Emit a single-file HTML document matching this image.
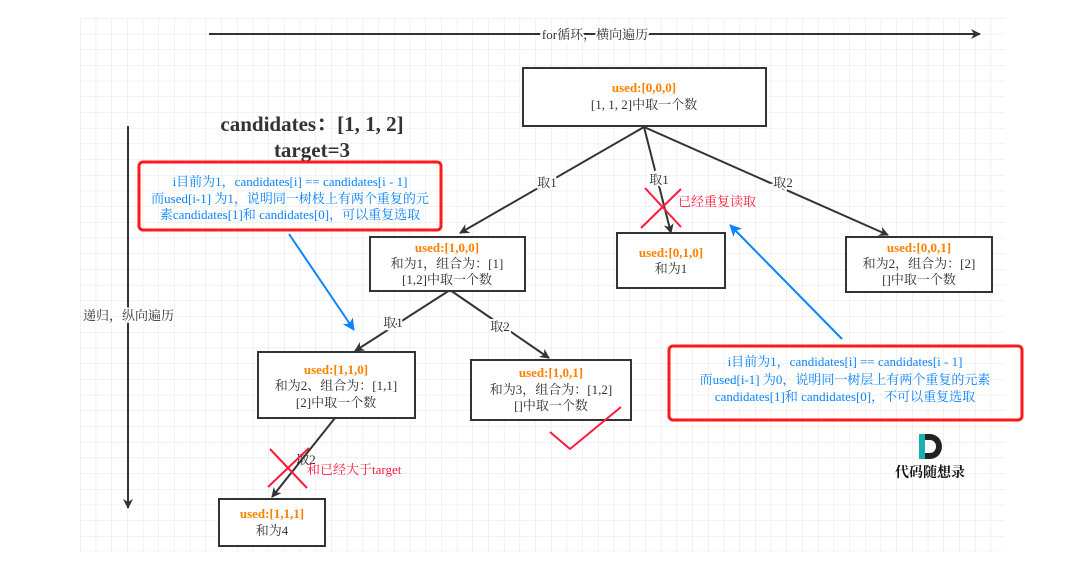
<!DOCTYPE html>
<html><head><meta charset="utf-8"><style>
html,body{margin:0;padding:0;background:#fff;width:1076px;height:577px;overflow:hidden}
text{font-family:"Liberation Serif","Noto Serif CJK SC",serif}
</style></head><body>
<svg width="1076" height="577" viewBox="0 0 1076 577" xmlns="http://www.w3.org/2000/svg">
<defs>
<pattern id="g" x="80" y="18" width="15.7" height="15.7" patternUnits="userSpaceOnUse">
<path d="M0 0H15.7M0 0V15.7" stroke="#e4e4e4" stroke-width="1" fill="none"/>
</pattern>
<marker id="a" markerWidth="10" markerHeight="10" refX="9" refY="5" orient="auto" markerUnits="userSpaceOnUse"><path d="M0 0L10 5L0 10L3 5Z" fill="#333"/></marker>
<marker id="b" markerWidth="12" markerHeight="12" refX="11" refY="6" orient="auto" markerUnits="userSpaceOnUse"><path d="M0 0L12 6L0 12L3 6Z" fill="#0a84ff"/></marker>
</defs>
<rect x="80" y="18" width="925" height="534" fill="url(#g)"/>
<g stroke="#333" stroke-width="2" fill="none">
<line x1="209" y1="34" x2="980" y2="34" marker-end="url(#a)"/>
<line x1="128" y1="126" x2="128" y2="508" marker-end="url(#a)"/>
<line x1="644" y1="127" x2="460" y2="233" marker-end="url(#a)"/>
<line x1="644" y1="127" x2="671" y2="233" marker-end="url(#a)"/>
<line x1="644" y1="127" x2="888" y2="235" marker-end="url(#a)"/>
<line x1="450" y1="290" x2="355" y2="351" marker-end="url(#a)"/>
<line x1="450" y1="290" x2="549" y2="358" marker-end="url(#a)"/>
<line x1="335" y1="418" x2="272" y2="497" marker-end="url(#a)"/>
</g>
<text x="595" y="39" font-size="13" fill="#333" text-anchor="middle" style="paint-order:stroke" stroke="#fff" stroke-width="4">for循环，横向遍历</text>
<text x="83" y="320" font-size="13" fill="#333" style="paint-order:stroke" stroke="#fff" stroke-width="3">递归，纵向遍历</text>
<text x="312" y="131" font-size="21" font-weight="bold" fill="#333" text-anchor="middle">candidates：[1, 1, 2]</text>
<text x="312" y="157" font-size="21" font-weight="bold" fill="#333" text-anchor="middle">target=3</text>
<g fill="#fff" stroke="#333" stroke-width="2">
<rect x="523" y="68" width="243" height="58"/>
<rect x="370" y="237" width="155" height="54"/>
<rect x="617" y="233" width="108" height="55"/>
<rect x="846" y="237" width="146" height="55"/>
<rect x="258" y="352" width="157" height="66"/>
<rect x="471" y="360" width="160" height="60"/>
<rect x="219" y="499" width="106" height="47"/>
</g>
<g font-size="13" text-anchor="middle">
<text x="644" y="92" fill="#ff8000" font-weight="bold">used:[0,0,0]</text>
<text x="644" y="109" fill="#333">[1, 1, 2]中取一个数</text>
<text x="447" y="252" fill="#ff8000" font-weight="bold">used:[1,0,0]</text>
<text x="447" y="268" fill="#333">和为1，组合为：[1]</text>
<text x="447" y="284" fill="#333">[1,2]中取一个数</text>
<text x="671" y="257" fill="#ff8000" font-weight="bold">used:[0,1,0]</text>
<text x="671" y="273" fill="#333">和为1</text>
<text x="919" y="252" fill="#ff8000" font-weight="bold">used:[0,0,1]</text>
<text x="919" y="268" fill="#333">和为2，组合为：[2]</text>
<text x="919" y="284" fill="#333">[]中取一个数</text>
<text x="336" y="374" fill="#ff8000" font-weight="bold">used:[1,1,0]</text>
<text x="336" y="390" fill="#333">和为2、组合为：[1,1]</text>
<text x="336" y="407" fill="#333">[2]中取一个数</text>
<text x="551" y="377" fill="#ff8000" font-weight="bold">used:[1,0,1]</text>
<text x="551" y="394" fill="#333">和为3，组合为：[1,2]</text>
<text x="551" y="410" fill="#333">[]中取一个数</text>
<text x="272" y="518" fill="#ff8000" font-weight="bold">used:[1,1,1]</text>
<text x="272" y="535" fill="#333">和为4</text>
</g>
<g font-size="13" fill="#333" text-anchor="middle" stroke="#fff" stroke-width="4" style="paint-order:stroke">
<text x="547" y="187">取1</text>
<text x="659" y="184">取1</text>
<text x="783" y="187">取2</text>
<text x="393" y="327">取1</text>
<text x="500" y="331">取2</text>
</g>
<text x="306" y="464" font-size="13" fill="#333" text-anchor="middle">取2</text>
<g stroke="#ff1a3c" stroke-width="2" fill="none">
<path d="M645 188L681 227M681 189L641 228"/>
<path d="M270 449L307 488M309 448L268 487"/>
<path d="M550 432L570 449L621 407"/>
</g>
<text x="678" y="206" font-size="13" fill="#ff1a3c" font-family="Liberation Sans,Noto Sans CJK SC,sans-serif">已经重复读取</text>
<text x="307" y="474" font-size="13" fill="#ff1a3c">和已经大于target</text>
<rect x="139" y="162" width="302" height="68" rx="4" fill="none" stroke="#ff1a1a" stroke-width="3"/>
<g font-size="13" fill="#0a84ff" text-anchor="middle">
<text x="290" y="186">i目前为1，candidates[i] == candidates[i - 1]</text>
<text x="290" y="203">而used[i-1] 为1，说明同一树枝上有两个重复的元</text>
<text x="290" y="219">素candidates[1]和 candidates[0]，可以重复选取</text>
</g>
<rect x="669" y="346" width="353" height="74" rx="4" fill="none" stroke="#ff1a1a" stroke-width="3"/>
<g font-size="13" fill="#0a84ff" text-anchor="middle">
<text x="845" y="366">i目前为1，candidates[i] == candidates[i - 1]</text>
<text x="845" y="384">而used[i-1] 为0，说明同一树层上有两个重复的元素</text>
<text x="845" y="401">candidates[1]和 candidates[0]，不可以重复选取</text>
</g>
<g stroke="#0a84ff" stroke-width="2" fill="none">
<line x1="289" y1="234" x2="354" y2="330" marker-end="url(#b)"/>
<line x1="842" y1="339" x2="730" y2="225" marker-end="url(#b)"/>
</g>
<rect x="919" y="434" width="6" height="25" fill="#1ab0b0"/>
<path d="M925 434H930A12 12.5 0 0 1 930 459H925V453H930A6 6.5 0 0 0 930 440H925Z" fill="#222"/>
<text x="930" y="477" font-size="14" font-weight="bold" fill="#111" text-anchor="middle" font-family="Noto Serif CJK SC,serif">代码随想录</text>
</svg>
</body></html>
